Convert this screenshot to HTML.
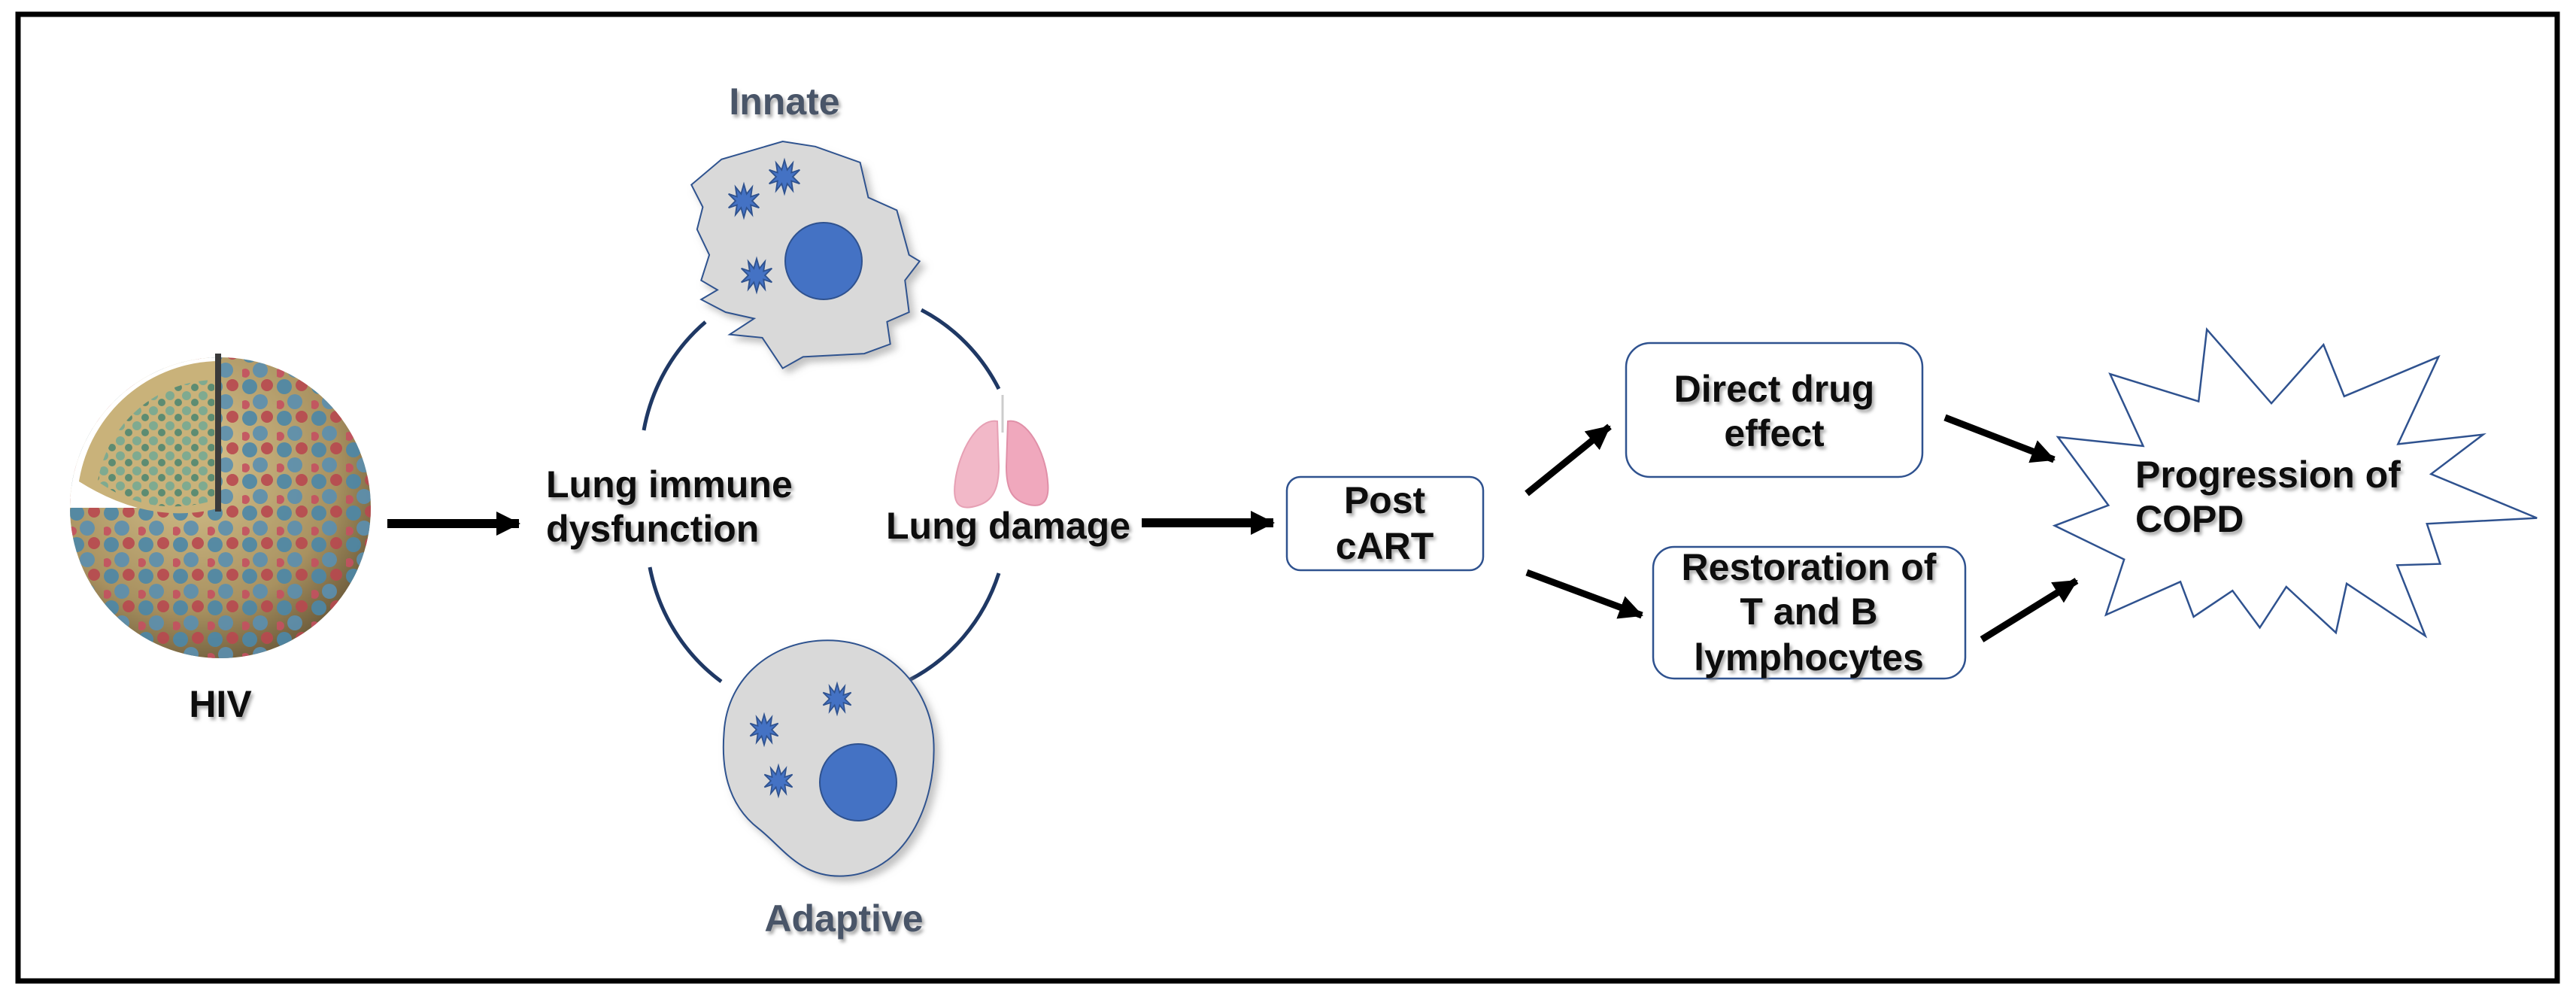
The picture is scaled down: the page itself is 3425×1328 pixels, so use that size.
<!DOCTYPE html>
<html><head><meta charset="utf-8"><style>
html,body{margin:0;padding:0;background:#fff}
svg{display:block}
text{font-family:"Liberation Sans",Arial,sans-serif;font-weight:bold;font-size:50px;fill:#111}
.sh{filter:url(#ts)}
</style></head><body>
<svg width="3425" height="1328" viewBox="0 0 3425 1328" xmlns="http://www.w3.org/2000/svg">
<defs>
<filter id="ts" x="-10%" y="-20%" width="130%" height="150%"><feDropShadow dx="3" dy="4" stdDeviation="2" flood-color="#888" flood-opacity="0.7"/></filter>
<filter id="cs" x="-10%" y="-10%" width="130%" height="130%"><feDropShadow dx="6" dy="8" stdDeviation="5" flood-color="#999" flood-opacity="0.6"/></filter>
<marker id="ah" markerUnits="userSpaceOnUse" markerWidth="40" markerHeight="40" refX="30" refY="16" orient="auto"><path d="M0,0 L32,16 L0,32 Z" fill="#000"/></marker>
<symbol id="star" viewBox="-26 -26 52 52" overflow="visible">
<polygon points="0,-24 4,-10 12,-20 10,-6 22,-10 12,0 22,10 10,6 12,20 4,10 0,24 -4,10 -12,20 -10,6 -22,10 -12,0 -22,-10 -10,-6 -12,-20 -4,-10" fill="#4472c4" stroke="#2f528f" stroke-width="2"/>
</symbol>
<radialGradient id="sph" cx="40%" cy="35%" r="70%"><stop offset="0" stop-color="#d9c58f"/><stop offset="0.7" stop-color="#a89160"/><stop offset="1" stop-color="#6b5a3a"/></radialGradient>
<pattern id="dots" width="46" height="42" patternUnits="userSpaceOnUse">
<circle cx="10" cy="10" r="10" fill="#4b87a8"/><circle cx="33" cy="8" r="8" fill="#b8484f"/>
<circle cx="24" cy="30" r="10" fill="#5a8fb0"/><circle cx="4" cy="34" r="6" fill="#c45060"/>
</pattern>
<pattern id="gdots" width="22" height="20" patternUnits="userSpaceOnUse">
<circle cx="6" cy="6" r="6" fill="#7faa90"/><circle cx="17" cy="15" r="5" fill="#5d8c72"/>
</pattern>
<clipPath id="sc"><circle cx="293" cy="675" r="200"/></clipPath>
</defs>

<rect x="24" y="19" width="3376" height="1285" fill="#fff" stroke="#000" stroke-width="7"/>

<!-- HIV -->
<g>
<circle cx="293" cy="675" r="200" fill="url(#sph)"/>
<g clip-path="url(#sc)">
<rect x="80" y="460" width="430" height="430" fill="url(#dots)" opacity="0.9"/>
<path d="M293,675 L293,460 L80,460 L80,675 Z" fill="#fff"/>
<path d="M293,675 L293,480 A190,190 0 0 0 105,640 Q200,700 293,675 Z" fill="#c9b27a"/>
<path d="M285,665 L285,505 A160,160 0 0 0 130,640 Q200,690 285,665 Z" fill="url(#gdots)"/>
</g>
<rect x="286" y="470" width="8" height="210" fill="#3a3a3a"/>
</g>
<text x="293" y="953" text-anchor="middle" class="sh">HIV</text>

<line x1="515" y1="696" x2="690" y2="696" stroke="#000" stroke-width="12" marker-end="url(#ah)"/>

<text x="726" y="661" class="sh">Lung immune</text>
<text x="726" y="720" class="sh">dysfunction</text>

<!-- circle arcs -->
<g fill="none" stroke="#1f3864" stroke-width="5">
<path d="M938,428 A236,245 0 0 0 856,572"/>
<path d="M1225,412 A236,245 0 0 1 1328,517"/>
<path d="M864,754 A236,245 0 0 0 959,906"/>
<path d="M1328,762 A236,245 0 0 1 1207,905"/>
</g>

<!-- Innate cell -->
<text x="1043" y="152" text-anchor="middle" fill="#4a5568" style="fill:#4a5568" class="sh">Innate</text>
<g transform="scale(1.084,0.847)" filter="url(#cs)">
<polygon points="848,290 885,250 960,222 1000,230 1055,255 1065,310 1100,330 1115,400 1128,410 1110,440 1115,490 1088,505 1092,540 1060,555 985,560 960,578 935,530 895,525 925,500 890,490 860,470 880,455 860,440 870,400 855,360 862,325" fill="#d9d9d9" stroke="#2f528f" stroke-width="2" vector-effect="non-scaling-stroke"/>
</g>
<circle cx="1095" cy="347" r="51" fill="#4472c4" stroke="#2f528f" stroke-width="2"/>
<use href="#star" x="965" y="243" width="48" height="48"/>
<use href="#star" x="1019" y="211" width="48" height="48"/>
<use href="#star" x="982" y="342" width="48" height="48"/>

<!-- Adaptive cell -->
<g transform="scale(1.084,0.847)" filter="url(#cs)">
<path d="M1015,1005 C1090,1005 1140,1080 1145,1160 C1150,1260 1110,1375 1030,1375 C980,1375 960,1330 930,1300 C890,1260 885,1200 888,1150 C892,1060 950,1005 1015,1005 Z" fill="#d9d9d9" stroke="#2f528f" stroke-width="2" vector-effect="non-scaling-stroke"/>
</g>
<circle cx="1141" cy="1040" r="51" fill="#4472c4" stroke="#2f528f" stroke-width="2"/>
<use href="#star" x="1091" y="907" width="44" height="44"/>
<use href="#star" x="994" y="948" width="44" height="44"/>
<use href="#star" x="1013" y="1016" width="44" height="44"/>
<text x="1122" y="1238" text-anchor="middle" style="fill:#4a5568" class="sh">Adaptive</text>

<!-- lungs -->
<g>
<line x1="1333" y1="525" x2="1333" y2="575" stroke="#ccc" stroke-width="3"/>
<path d="M1326,560 C1300,555 1275,600 1270,640 C1266,670 1275,680 1300,672 C1320,666 1328,650 1328,620 Z" fill="#f2b8c8" stroke="#e6a0b4" stroke-width="2"/>
<path d="M1340,560 C1365,555 1390,600 1393,640 C1396,668 1385,676 1365,670 C1345,664 1338,650 1338,620 Z" fill="#f0a8bd" stroke="#e090a8" stroke-width="2"/>
</g>
<text x="1178" y="716" class="sh">Lung damage</text>

<line x1="1518" y1="695" x2="1693" y2="695" stroke="#000" stroke-width="12" marker-end="url(#ah)"/>

<!-- Post cART -->
<rect x="1711" y="634" width="261" height="124" rx="18" fill="#fff" stroke="#2f528f" stroke-width="2.5"/>
<text x="1841" y="682" text-anchor="middle" class="sh">Post</text>
<text x="1841" y="743" text-anchor="middle" class="sh">cART</text>

<line x1="2030" y1="656" x2="2140" y2="567" stroke="#000" stroke-width="9" marker-end="url(#ah)"/>
<line x1="2030" y1="761" x2="2183" y2="818" stroke="#000" stroke-width="9" marker-end="url(#ah)"/>

<rect x="2162" y="456" width="394" height="178" rx="32" fill="#fff" stroke="#2f528f" stroke-width="2.5"/>
<text x="2359" y="534" text-anchor="middle" class="sh">Direct drug</text>
<text x="2359" y="593" text-anchor="middle" class="sh">effect</text>

<rect x="2198" y="727" width="415" height="175" rx="28" fill="#fff" stroke="#2f528f" stroke-width="2.5"/>
<text x="2405" y="771" text-anchor="middle" class="sh">Restoration of</text>
<text x="2405" y="830" text-anchor="middle" class="sh">T and B</text>
<text x="2405" y="891" text-anchor="middle" class="sh">lymphocytes</text>

<line x1="2586" y1="555" x2="2731" y2="611" stroke="#000" stroke-width="9" marker-end="url(#ah)"/>
<line x1="2635" y1="850" x2="2761" y2="772" stroke="#000" stroke-width="9" marker-end="url(#ah)"/>

<!-- starburst -->
<g transform="translate(1700,0) scale(1.1,0.847)">
<polygon points="1122,517 1200,633 1263,541 1288,622 1402,560 1353,697 1456,682 1393,744 1521,813 1388,822 1404,885 1352,887 1386,998 1291,916 1278,993 1218,921 1186,985 1153,927 1106,968 1090,913 1000,965 1022,878 938,825 1003,793 942,686 1045,700 1005,587 1112,630" fill="#fff" stroke="#2f528f" stroke-width="2.5" vector-effect="non-scaling-stroke"/>
</g>
<text x="2839" y="648" class="sh">Progression of</text>
<text x="2839" y="707" class="sh">COPD</text>
</svg>
</body></html>
